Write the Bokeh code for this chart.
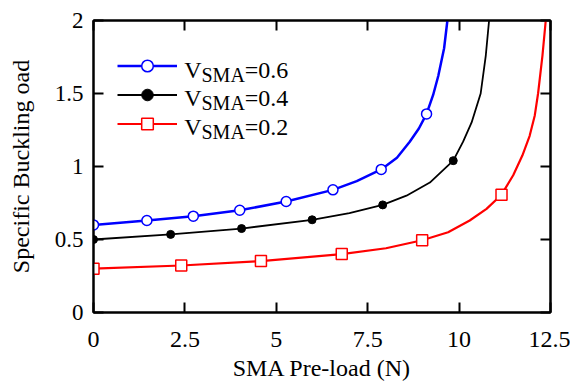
from bokeh.plotting import figure
from bokeh.models import (Range1d, LinearAxis, FixedTicker, Legend, LegendItem,
                          Label, CustomJSTickFormatter)
from bokeh.embed import file_html
from bokeh.resources import INLINE

# ---------------- data ----------------
x_ticks = [0, 2.5, 5, 7.5, 10, 12.5]
x_tick_labels = ["0", "2.5", "5", "7.5", "10", "12.5"]
y_ticks = [0, 0.5, 1, 1.5, 2]
y_tick_labels = ["0", "0.5", "1", "1.5", "2"]

# V_SMA = 0.6 (blue): curve, markers read at symbols
blue_curve_x = [0, 1.46, 2.73, 4.0, 5.27, 6.55, 7.2, 7.87, 8.3, 8.65, 8.9, 9.11, 9.29, 9.43, 9.59, 9.68]
blue_curve_y = [0.60, 0.63, 0.66, 0.70, 0.76, 0.84, 0.90, 0.98, 1.06, 1.17, 1.26, 1.36, 1.49, 1.62, 1.81, 2.0]
blue_mark_x = [0, 1.46, 2.73, 4.0, 5.27, 6.55, 7.87, 9.11]
blue_mark_y = [0.60, 0.63, 0.66, 0.70, 0.76, 0.84, 0.98, 1.36]

# V_SMA = 0.4 (black)
black_curve_x = [0, 2.11, 4.05, 5.98, 7.0, 7.91, 8.56, 9.20, 9.84, 10.11, 10.34, 10.59, 10.73, 10.82]
black_curve_y = [0.50, 0.535, 0.575, 0.635, 0.68, 0.737, 0.80, 0.89, 1.04, 1.17, 1.30, 1.50, 1.76, 2.0]
black_mark_x = [0, 2.11, 4.05, 5.98, 7.91, 9.84]
black_mark_y = [0.50, 0.535, 0.575, 0.635, 0.737, 1.04]

# V_SMA = 0.2 (red)
red_curve_x = [0, 2.4, 4.58, 6.79, 8.0, 8.99, 9.7, 10.29, 10.75, 11.16, 11.48, 11.73, 11.93, 12.07, 12.16, 12.28, 12.37]
red_curve_y = [0.30, 0.322, 0.352, 0.40, 0.44, 0.495, 0.55, 0.63, 0.71, 0.807, 0.94, 1.075, 1.21, 1.35, 1.50, 1.76, 2.0]
red_mark_x = [0, 2.4, 4.58, 6.79, 8.99, 11.16]
red_mark_y = [0.30, 0.322, 0.352, 0.40, 0.495, 0.807]

legend_values = ["=0.6", "=0.4", "=0.2"]

FONT = "Liberation Serif"

p = figure(width=570, height=383, output_backend="svg", toolbar_location=None,
           x_range=Range1d(0, 12.5), y_range=Range1d(0, 2),
           min_border_left=93, min_border_right=20, min_border_top=20,
           min_border_bottom=71)
p.grid.visible = False
p.outline_line_color = "black"
p.outline_line_width = 2
p.background_fill_color = "white"
p.border_fill_color = "white"

for ax, ticks, labels in ((p.xaxis[0], x_ticks, x_tick_labels), (p.yaxis[0], y_ticks, y_tick_labels)):
    ax.ticker = FixedTicker(ticks=ticks)
    ax.major_label_overrides = {t: l for t, l in zip(ticks, labels)}
    ax.major_label_text_font = FONT
    ax.major_label_text_color = "black"
    ax.axis_line_width = 2
    ax.axis_line_color = "black"
    ax.major_tick_in = 10
    ax.major_tick_out = 0
    ax.major_tick_line_width = 2
    ax.minor_tick_line_color = None
    ax.axis_label_text_font = FONT
    ax.axis_label_text_font_size = "24px"
    ax.axis_label_text_font_style = "normal"
    ax.axis_label_text_color = "black"

p.xaxis[0].axis_label = "SMA Pre-load (N)"
p.xaxis[0].major_label_text_font_size = "24px"
p.xaxis[0].major_label_standoff = 19
p.xaxis[0].axis_label_standoff = 5
p.yaxis[0].axis_label = "Specific Buckling oad"
p.yaxis[0].major_label_text_font_size = "23px"
p.yaxis[0].major_label_standoff = 10
p.yaxis[0].axis_label_standoff = 18

blank = CustomJSTickFormatter(code="return ''")
for side, ticks in (("above", x_ticks), ("right", y_ticks)):
    ax = LinearAxis(ticker=FixedTicker(ticks=ticks), formatter=blank,
                    major_label_text_font_size="0px", major_label_standoff=0,
                    axis_line_width=2, axis_line_color="black",
                    major_tick_in=10, major_tick_out=0, major_tick_line_width=2,
                    minor_tick_line_color=None)
    p.add_layout(ax, side)

l_blue = p.line(blue_curve_x, blue_curve_y, line_color="#0000FF", line_width=2.5)
s_blue = p.scatter(blue_mark_x, blue_mark_y, marker="circle", size=10,
                   line_color="#0000FF", fill_color="white", line_width=1.5)
l_black = p.line(black_curve_x, black_curve_y, line_color="black", line_width=1.8)
s_black = p.scatter(black_mark_x, black_mark_y, marker="circle", size=8,
                    line_color="black", fill_color="black")
l_red = p.line(red_curve_x, red_curve_y, line_color="#FF0000", line_width=2.2)
s_red = p.scatter(red_mark_x, red_mark_y, marker="square", size=11,
                  line_color="#FF0000", fill_color="white", line_width=1.5)

legend = Legend(items=[LegendItem(label=" ", renderers=[l_blue, s_blue]),
                       LegendItem(label=" ", renderers=[l_black, s_black]),
                       LegendItem(label=" ", renderers=[l_red, s_red])],
                location=(24, 174), glyph_width=60, glyph_height=29,
                label_height=29, label_width=0, label_standoff=0,
                label_text_font_size="1px", padding=0, spacing=0, margin=0,
                border_line_color=None, background_fill_alpha=0)
p.add_layout(legend)

row_base = [243, 214.5, 186]
for base, val in zip(row_base, legend_values):
    p.add_layout(Label(x=90.7, y=base, x_units="screen", y_units="screen", text="V",
                       text_font=FONT, text_font_size="24px", text_color="black",
                       text_baseline="alphabetic"))
    p.add_layout(Label(x=108, y=base - 5, x_units="screen", y_units="screen", text="SMA",
                       text_font=FONT, text_font_size="20px", text_color="black",
                       text_baseline="alphabetic"))
    p.add_layout(Label(x=151.3, y=base, x_units="screen", y_units="screen", text=val,
                       text_font=FONT, text_font_size="24px", text_color="black",
                       text_baseline="alphabetic"))

open("out.html", "w").write(file_html(p, INLINE))
